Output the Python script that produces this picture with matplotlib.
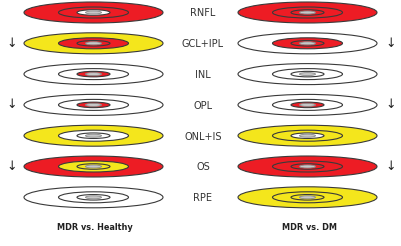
import matplotlib
matplotlib.use("Agg")
import matplotlib.pyplot as plt
from matplotlib.patches import Ellipse

layers = ["RNFL", "GCL+IPL", "INL", "OPL", "ONL+IS", "OS", "RPE"]
panels = ["MDR vs. Healthy", "MDR vs. DM"]
# ring colours per layer: [outer ring, middle ring, inner ring]; r=red, y=yellow, w=white
rings_left = [
    ["r", "r", "w"],
    ["y", "r", "r"],
    ["w", "w", "r"],
    ["w", "w", "r"],
    ["y", "w", "w"],
    ["r", "y", "y"],
    ["w", "w", "w"],
]
rings_right = [
    ["r", "r", "r"],
    ["w", "r", "r"],
    ["w", "w", "w"],
    ["w", "w", "r"],
    ["y", "y", "w"],
    ["r", "r", "r"],
    ["y", "y", "y"],
]
arrows_left = [False, True, False, True, False, True, False]
arrows_right = [False, True, False, True, False, True, False]

cmap = {"r": "#ED1C24", "y": "#F4E61C", "w": "#FFFFFF"}

W, H = 402, 246
fig = plt.figure(figsize=(W / 100, H / 100), dpi=100)
ax = fig.add_axes([0, 0, 1, 1])
ax.set_xlim(0, W)
ax.set_ylim(H, 0)
ax.axis("off")

row_y0, row_dy = 12.5, 30.8
cx = [93.5, 307.5]
sizes = [(139, 21), (70, 11), (33, 5.5)]
center_size = (16, 3)
edge = "#3a3a3a"

for side, (rings, arrows) in enumerate([(rings_left, arrows_left), (rings_right, arrows_right)]):
    for i, layer in enumerate(layers):
        y = row_y0 + i * row_dy
        for k, (w, h) in enumerate(sizes):
            ax.add_patch(Ellipse((cx[side], y), w, h, facecolor=cmap[rings[i][k]],
                                 edgecolor=edge, linewidth=0.8, zorder=2 + k))
        ax.add_patch(Ellipse((cx[side], y), center_size[0], center_size[1],
                             facecolor="#C8C8C8", edgecolor="#8a8a8a", linewidth=0.6, zorder=6))
        if arrows[i]:
            ax.text(12 if side == 0 else 391, y, "\u2193", ha="center", va="center",
                    fontsize=9, color="#222222")

for i, layer in enumerate(layers):
    y = row_y0 + i * row_dy
    ax.text(203, y + 1, layer, ha="center", va="center", fontsize=7, color="#333333")

title_x = [94.5, 309.5]
for side, title in enumerate(panels):
    ax.text(title_x[side], 228, title, ha="center", va="center", fontsize=5.9,
            fontweight="bold", color="#222222")

fig.savefig("out.png", dpi=100)
